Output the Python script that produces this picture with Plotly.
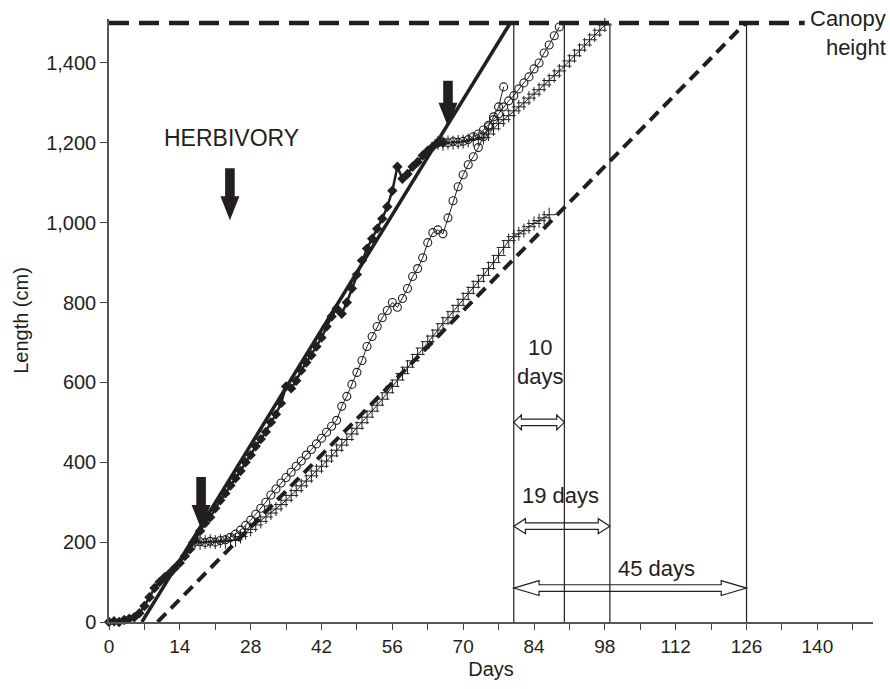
import plotly.graph_objects as go

# ---------------- data ----------------
control_days = list(range(0, 67))
control_len = [0, 2, 0, 5, 8, 12, 22, 40, 62, 85, 100, 112, 122, 135, 148, 165, 182, 205, 228, 248,
               262, 285, 305, 322, 342, 360, 378, 400, 418, 440, 458, 476, 500, 520, 548, 590, 585,
               604, 630, 650, 668, 690, 712, 740, 765, 785, 772, 800, 835, 870, 905, 935, 960, 985,
               1010, 1040, 1080, 1140, 1110, 1122, 1140, 1152, 1168, 1180, 1190, 1200, 1200]

circ1_days = list(range(17, 79))
circ1_len = [200, 201, 199, 202, 200, 204, 206, 212, 220, 230, 242, 255, 270, 285, 300, 318, 333, 348,
             362, 375, 390, 403, 418, 432, 446, 460, 475, 490, 505, 540, 565, 595, 625, 655, 690, 715,
             740, 762, 780, 800, 788, 810, 835, 865, 885, 912, 950, 975, 982, 972, 1012, 1055, 1090,
             1120, 1145, 1165, 1188, 1215, 1240, 1265, 1290, 1340]

cross1_days = list(range(17, 88))
cross1_len = [200, 198, 200, 202, 200, 203, 201, 204, 206, 214, 224, 232, 243, 252, 263, 273, 283, 294,
              305, 317, 329, 341, 353, 366, 378, 390, 403, 416, 430, 443, 457, 471, 485, 499, 513, 528,
              543, 558, 574, 590, 606, 622, 638, 654, 670, 686, 702, 716, 731, 747, 762, 777, 793, 808,
              823, 838, 853, 868, 885, 900, 918, 938, 955, 965, 972, 980, 990, 998, 1005, 1012, 1020]

circ2_days = list(range(65, 90))
circ2_len = [1200, 1202, 1200, 1203, 1201, 1204, 1208, 1215, 1222, 1232, 1244, 1258, 1272, 1290, 1305,
             1318, 1335, 1350, 1365, 1385, 1400, 1425, 1445, 1468, 1490]

cross2_days = list(range(65, 99))
cross2_len = [1200, 1198, 1201, 1200, 1202, 1203, 1206, 1208, 1210, 1213, 1222, 1235, 1248, 1258, 1268,
              1280, 1290, 1300, 1312, 1322, 1333, 1345, 1356, 1368, 1380, 1392, 1405, 1418, 1432, 1445,
              1458, 1470, 1482, 1495]

fit_control_x = [6.5, 79.3]
fit_control_y = [0, 1500]
fit_slow_x = [9.6, 125.8]
fit_slow_y = [0, 1500]

canopy_height = 1500
canopy_x = [0, 137.5]

reach_days = [80, 90, 99, 126]          # vertical markers
span_labels = ["10<br>days", "19 days", "45 days"]
span_ends = [90, 99, 126]
span_levels = [500, 240, 85]
span_heads = [1.5, 2.3, 5.0]
span_label_pos = [(85.2, 650), (89.3, 318), (108.3, 134)]

herb_arrows = [(23.9, 1006, 52), (18.2, 233, 52), (67.0, 1240, 46)]

x_ticks = list(range(0, 148, 7))
x_ticktext = [str(v) if v % 14 == 0 else "" for v in x_ticks]
y_ticks = list(range(0, 1401, 200))

FONT = "Liberation Sans, Arial, sans-serif"
INK = "#231f20"

fig = go.Figure()

# fits
fig.add_trace(go.Scatter(x=fit_control_x, y=fit_control_y, mode="lines",
                         line=dict(color=INK, width=3.5), showlegend=False))
fig.add_trace(go.Scatter(x=fit_slow_x, y=fit_slow_y, mode="lines",
                         line=dict(color=INK, width=4, dash="12px,7px"), showlegend=False))
# canopy
fig.add_trace(go.Scatter(x=canopy_x, y=[canopy_height] * 2, mode="lines",
                         line=dict(color=INK, width=4.5, dash="20px,10px"), showlegend=False))

# series
fig.add_trace(go.Scatter(x=cross1_days, y=cross1_len, mode="lines+markers",
                         line=dict(color=INK, width=1),
                         marker=dict(symbol="cross-thin-open", size=10, line=dict(color=INK, width=1)),
                         cliponaxis=False, showlegend=False))
fig.add_trace(go.Scatter(x=cross2_days, y=cross2_len, mode="lines+markers",
                         line=dict(color=INK, width=1),
                         marker=dict(symbol="cross-thin-open", size=10, line=dict(color=INK, width=1)),
                         cliponaxis=False, showlegend=False))
fig.add_trace(go.Scatter(x=circ1_days, y=circ1_len, mode="lines+markers",
                         line=dict(color=INK, width=1),
                         marker=dict(symbol="circle-open", size=8, line=dict(color=INK, width=1.1)),
                         cliponaxis=False, showlegend=False))
fig.add_trace(go.Scatter(x=circ2_days, y=circ2_len, mode="lines+markers",
                         line=dict(color=INK, width=1),
                         marker=dict(symbol="circle-open", size=8, line=dict(color=INK, width=1.1)),
                         cliponaxis=False, showlegend=False))
fig.add_trace(go.Scatter(x=control_days, y=control_len, mode="lines+markers",
                         line=dict(color=INK, width=2.5),
                         marker=dict(symbol="diamond", size=8, color=INK),
                         cliponaxis=False, showlegend=False))

shapes = []
for d in reach_days:
    shapes.append(dict(type="line", xref="x", yref="y", x0=d, x1=d, y0=0, y1=canopy_height,
                       line=dict(color=INK, width=1.2), layer="above"))

H, T = 7.5, 3.3
x1 = reach_days[0]
for x2, lvl, h in zip(span_ends, span_levels, span_heads):
    p = (f"M{x1},0 L{x1+h},{H} L{x1+h},{T} L{x2-h},{T} L{x2-h},{H} L{x2},0 "
         f"L{x2-h},{-H} L{x2-h},{-T} L{x1+h},{-T} L{x1+h},{-H} Z")
    shapes.append(dict(type="path", xref="x", yref="y", ysizemode="pixel", yanchor=lvl,
                       path=p, line=dict(color=INK, width=1.2), fillcolor="rgba(0,0,0,0)"))

for ax_, ay_, L in herb_arrows:
    p = f"M0,0 L-9.5,24 L-4.8,24 L-4.8,{L} L4.8,{L} L4.8,24 L9.5,24 Z"
    shapes.append(dict(type="path", xref="x", yref="y", xsizemode="pixel", ysizemode="pixel",
                       xanchor=ax_, yanchor=ay_, path=p, line=dict(color=INK, width=0),
                       fillcolor=INK))

annotations = []
for txt, (tx, ty) in zip(span_labels, span_label_pos):
    annotations.append(dict(x=tx, y=ty, xref="x", yref="y", text=txt, showarrow=False,
                            font=dict(family=FONT, size=22, color=INK)))
annotations.append(dict(x=24.3, y=1212, xref="x", yref="y", text="HERBIVORY", showarrow=False,
                        font=dict(family=FONT, size=23, color=INK)))
annotations.append(dict(x=(888 - 109) / 764, y=(629 - 33.5) / 610, xref="paper", yref="paper",
                        text="Canopy<br>height", showarrow=False, xanchor="right",
                        yanchor="middle", align="right",
                        font=dict(family=FONT, size=22, color=INK)))

fig.update_layout(
    width=890, height=689,
    margin=dict(l=109, r=17, t=19, b=60),
    paper_bgcolor="white", plot_bgcolor="white",
    font=dict(family=FONT, size=20, color=INK),
    shapes=shapes, annotations=annotations,
    xaxis=dict(range=[0, 151], tickvals=x_ticks, ticktext=x_ticktext, ticks="outside",
               ticklen=6, tickcolor="#444", showline=True, linecolor="#555", linewidth=1.5,
               showgrid=False, zeroline=False, tickfont=dict(size=19),
               title=dict(text="Days", font=dict(size=20), standoff=6)),
    yaxis=dict(range=[0, 1510], tickvals=y_ticks, tickformat=",", ticks="outside",
               ticklen=7, tickcolor="#444", showline=True, linecolor="#555", linewidth=1.5,
               showgrid=False, zeroline=False, tickfont=dict(size=20),
               title=dict(text="Length (cm)", font=dict(size=20), standoff=12)),
)

fig.write_html("out.html")
